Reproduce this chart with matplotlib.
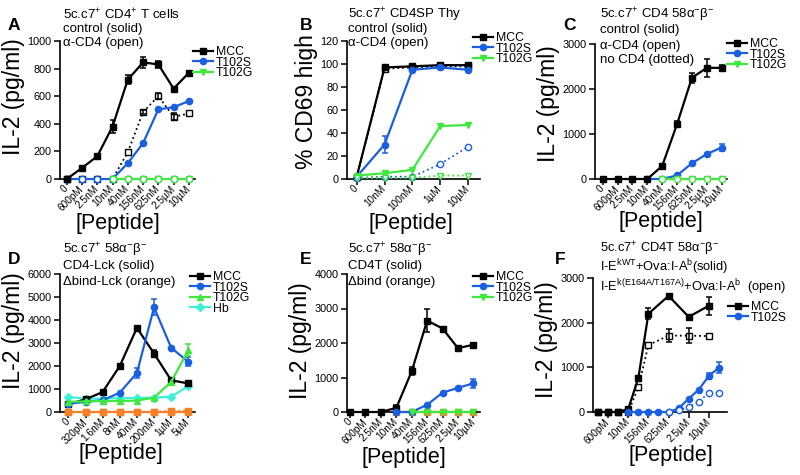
import matplotlib
matplotlib.use('Agg')
import matplotlib.pyplot as plt

plt.rcParams['font.family'] = ['Liberation Sans', 'DejaVu Sans']
plt.rcParams['mathtext.fontset'] = 'custom'
plt.rcParams['mathtext.rm'] = 'Liberation Sans'
plt.rcParams['mathtext.it'] = 'Liberation Sans:italic'
plt.rcParams['mathtext.bf'] = 'Liberation Sans:bold'

BLACK = 'black'
BLUE = '#1a5fe0'
GREEN = '#3ee83e'
CYAN = '#3ff0d8'
ORANGE = '#f58025'

# ---- data ----
conc9 = ['0', '600pM', '2.5nM', '10nM', '40nM', '156nM', '625nM', '2.5µM', '10µM']
from10nM = conc9[3:]
from40nM = conc9[4:]

# A : CD4+ T cells, IL-2
A_mcc = [0, 80, 165, 380, 720, 845, 830, 655, 770]
A_mcc_err = [0, 10, 12, 50, 35, 40, 25, 10, 10]
A_mcc_open = [0, 0, 0, 0, 195, 485, 600, 450, 475]
A_mcc_open_err = [0, 0, 0, 0, 0, 15, 20, 25, 0]
A_t102s = [0, 0, 0, 0, 115, 260, 505, 520, 565]
A_t102s_open = [0, 0, 0, 0, 0, 0, 0, 0, 0]
A_t102g = [0, 0, 0, 0, 0, 0]          # 10nM .. 10µM
A_t102g_open = [0, 0, 0, 0, 0, 0]

# B : CD4SP thymocytes, % CD69 high
conc5 = ['0', '10nM', '100nM', '1µM', '10µM']
B_mcc = [2, 97, 98, 99, 99]
B_mcc_open = [2, 96, 97, 98, 98]
B_t102s = [2, 30, 95, 97, 95]
B_t102s_err = [0, 7, 1, 1, 1]
B_t102s_open = [1, 2, 2, 13, 28]
B_t102g = [3, 5, 8, 46, 47]
B_t102g_open = [1, 1, 1, 3, 3]

# C : CD4 58a-b-
C_mcc = [0, 0, 0, 0, 290, 1220, 2250, 2470, 2470]
C_mcc_err = [0, 0, 0, 0, 20, 60, 110, 200, 60]
C_t102s = [0, 0, 80, 350, 555, 700]    # 10nM .. 10µM
C_t102s_err = [0, 0, 0, 0, 0, 80]
C_t102g = [0, 0, 0, 0, 0]              # 40nM .. 10µM
C_t102g_open = [0, 0, 0, 0, 0]

# D : CD4-Lck / dbind-Lck
conc8 = ['0', '320pM', '1.6nM', '8nM', '40nM', '200nM', '1µM', '5µM']
D_mcc = [340, 550, 870, 2000, 3660, 2540, 1380, 1240]
D_mcc_err = [0, 0, 0, 0, 100, 150, 0, 0]
D_t102s = [360, 440, 510, 840, 1700, 4550, 2790, 2180]
D_t102s_err = [0, 0, 0, 0, 200, 350, 0, 200]
D_t102g = [440, 465, 480, 480, 495, 625, 1310, 2690]
D_t102g_err = [0, 0, 0, 0, 0, 0, 0, 250]
D_hb = [650, 580, 580, 610, 610, 625, 670, 1120]
D_dbind = [0, 0, 0, 0, 0, 0, 0, 0]
D_dbind_open = [0, 0, 0, 0, 0, 0, 60, 60]

# E : CD4T / dbind
E_mcc = [0, 0, 0, 120, 1180, 2650, 2420, 1850, 1950]
E_mcc_err = [0, 0, 0, 80, 120, 330, 30, 30, 30]
E_t102s = [0, 0, 210, 560, 700, 830]   # 10nM .. 10µM
E_t102s_err = [30, 0, 0, 0, 0, 130]
E_t102g = [0, 0, 0, 0, 0]              # 40nM .. 10µM
E_dbind = [0, 0, 0, 0, 0, 0]           # 10nM .. 10µM

# F : CD4T 58a-b-, I-Ek WT vs E164A/T167A
concF = ['0', '600pM', '2.5nM', '10nM', '40nM', '156nM', '312nM', '625nM',
         '1.25µM', '2.5µM', '5µM', '10µM', '20µM']
F_ticks = ['600pM', '10nM', '156nM', '625nM', '2.5µM', '10µM']
F_mcc_x = ['0', '600pM', '2.5nM', '10nM', '40nM', '156nM', '625nM', '2.5µM', '10µM']
F_mcc = [0, 0, 0, 70, 760, 2200, 2600, 2130, 2380]
F_mcc_err = [0, 0, 0, 0, 0, 120, 50, 30, 200]
F_mcc_open = [0, 0, 0, 0, 550, 1500, 1710, 1710, 1700]
F_mcc_open_err = [0, 0, 0, 0, 0, 0, 150, 170, 0]
F_t102s_x = ['10nM', '40nM', '156nM', '312nM', '625nM', '1.25µM', '2.5µM', '5µM', '10µM', '20µM']
F_t102s = [0, 0, 0, 0, 0, 80, 300, 500, 810, 990]
F_t102s_err = [0, 0, 0, 0, 0, 0, 0, 0, 70, 120]
F_t102s_open_x = ['625nM', '1.25µM', '2.5µM', '5µM', '10µM', '20µM']
F_t102s_open = [0, 35, 110, 230, 430, 430]


fig = plt.figure(figsize=(8, 4.75), dpi=100)
W, H = 800.0, 475.0


def add_ax(left, top, right, bottom):
    return fig.add_axes([left / W, 1 - bottom / H, (right - left) / W, (bottom - top) / H])


def draw(ax, cats, xl, ys, color, marker, err=None, open_=False, label=None, z=3):
    xs = [cats.index(c) for c in xl]
    ax.plot(xs, ys, ls=':' if open_ else '-', color=color, lw=1.3 if open_ else 1.6,
            marker=marker, ms=4.5, mfc='white' if open_ else color, mec=color, mew=1,
            label=label, clip_on=False, zorder=z)
    if err:
        ex = [x for x, e in zip(xs, err) if e > 0]
        ey = [y for y, e in zip(ys, err) if e > 0]
        ee = [e for e in err if e > 0]
        ax.errorbar(ex, ey, yerr=ee, fmt='none', ecolor=color, elinewidth=1.1,
                    capsize=2.5, capthick=1.1, clip_on=False, zorder=z)


def setup(ax, ticks, labels, xlim, ymax, ystep, ylabel, ly=0.5, lx=0.5, lxy=-0.24):
    ax.set_xlim(xlim)
    ax.set_ylim(0, ymax)
    ax.set_yticks(range(0, ymax + 1, ystep))
    ax.set_xticks(ticks)
    ax.set_xticklabels(labels, rotation=45, ha='right', va='center', rotation_mode='anchor')
    for s in ['top', 'right']:
        ax.spines[s].set_visible(False)
    for s in ['left', 'bottom']:
        ax.spines[s].set_linewidth(1.2)
    ax.tick_params(direction='out', length=4, width=1.1, labelsize=7.8, pad=2)
    ax.tick_params(axis='x', labelsize=7.2, pad=2)
    ax.set_ylabel(ylabel, fontsize=16.5, labelpad=2)
    ax.set_xlabel('[Peptide]', fontsize=15.5)
    ax.yaxis.label.set_y(ly)
    ax.xaxis.set_label_coords(lx, lxy)


def legend(ax, x, y, handles=None, labels=None):
    kw = dict(loc='upper left', bbox_to_anchor=(x / W, 1 - y / H), bbox_transform=fig.transFigure,
              frameon=False, fontsize=8.8, handlelength=1.6, handletextpad=0.3,
              borderpad=0, borderaxespad=0, labelspacing=-0.12)
    if handles is None:
        ax.legend(**kw)
    else:
        ax.legend(handles, labels, **kw)


def title(x, ys, lines, size=9.5):
    for y, t in zip(ys, lines):
        fig.text(x / W, 1 - y / H, t, fontsize=size, ha='left', va='center')


def letter(x, y, t):
    fig.text(x / W, 1 - y / H, t, fontsize=12.5, fontweight='bold', ha='left', va='center')


# ---- A ----
ax = add_ax(60, 41, 195, 179)
draw(ax, conc9, conc9, A_mcc_open, BLACK, 's', A_mcc_open_err, open_=True)
draw(ax, conc9, conc9, A_t102s, BLUE, 'o', label='T102S')
draw(ax, conc9, conc9, A_t102s_open, BLUE, 'o', open_=True)
draw(ax, conc9, conc9, A_mcc, BLACK, 's', A_mcc_err, label='MCC', z=4)
draw(ax, conc9, from10nM, A_t102g, GREEN, 'v', label='T102G')
draw(ax, conc9, from10nM, A_t102g_open, GREEN, 'o', open_=True)
setup(ax, range(9), conc9, (-0.44, 8.4), 1000, 200, 'IL-2 (pg/ml)', ly=0.6, lx=0.43, lxy=-0.25)
h, l = ax.get_legend_handles_labels()
legend(ax, 193, 46, [h[1], h[0], h[2]], [l[1], l[0], l[2]])
title(63, [15, 29, 43], ['5c.c7$^{+}$ CD4$^{+}$ T cells', 'control (solid)', 'α-CD4 (open)'])
letter(8, 26, 'A')

# ---- B ----
ax = add_ax(347, 41, 480, 179)
draw(ax, conc5, conc5, B_mcc_open, BLACK, 's', open_=True)
draw(ax, conc5, conc5, B_mcc, BLACK, 's', label='MCC')
draw(ax, conc5, conc5, B_t102s, BLUE, 'o', B_t102s_err, label='T102S')
draw(ax, conc5, conc5, B_t102s_open, BLUE, 'o', open_=True)
draw(ax, conc5, conc5, B_t102g, GREEN, 'v', label='T102G')
draw(ax, conc5, conc5, B_t102g_open, GREEN, 'v', open_=True)
setup(ax, range(5), conc5, (-0.35, 4.43), 120, 20, '% CD69 high', ly=0.56, lx=0.48, lxy=-0.25)
legend(ax, 473, 32)
title(348, [15, 29, 43], ['5c.c7$^{+}$ CD4SP Thy', 'control (solid)', 'α-CD4 (open)'])
letter(300, 26, 'B')

# ---- C ----
ax = add_ax(595, 44, 727, 179)
draw(ax, conc9, from10nM, C_t102s, BLUE, 'o', C_t102s_err, label='T102S')
draw(ax, conc9, conc9, C_mcc, BLACK, 's', C_mcc_err, label='MCC')
draw(ax, conc9, from40nM, C_t102g, GREEN, 'v', label='T102G')
draw(ax, conc9, from40nM, C_t102g_open, GREEN, 'o', open_=True)
setup(ax, range(9), conc9, (-0.52, 8.36), 3000, 1000, 'IL-2 (pg/ml)', ly=0.56, lxy=-0.235)
h, l = ax.get_legend_handles_labels()
legend(ax, 727, 38, [h[1], h[0], h[2]], [l[1], l[0], l[2]])
title(600, [15, 30.5, 45.5, 60.5], ['5c.c7$^{+}$ CD4 58α$^{-}$β$^{-}$', 'control (solid)',
                                   'α-CD4 (open)', 'no CD4 (dotted)'])
letter(563, 26, 'C')

# ---- D ----
ax = add_ax(60, 274, 195, 412)
draw(ax, conc8, conc8, D_dbind_open, ORANGE, 's', open_=True)
draw(ax, conc8, conc8, D_hb, CYAN, 'D', z=2)
draw(ax, conc8, conc8, D_mcc, BLACK, 's', D_mcc_err, label='MCC')
draw(ax, conc8, conc8, D_t102s, BLUE, 'o', D_t102s_err, label='T102S')
draw(ax, conc8, conc8, D_t102g, GREEN, '^', D_t102g_err, label='T102G')
ax.plot([], [], color=CYAN, lw=1.6, marker='D', ms=4, label='Hb')
draw(ax, conc8, conc8, D_dbind, ORANGE, 's')
setup(ax, range(8), conc8, (-0.49, 7.39), 6000, 1000, 'IL-2 (pg/ml)', ly=0.59, lx=0.45, lxy=-0.225)
legend(ax, 190, 271)
title(63, [250, 266.5, 281.5], ['5c.c7$^{+}$ 58α$^{-}$β$^{-}$', 'CD4-Lck (solid)', 'Δbind-Lck (orange)'])
letter(8, 260, 'D')

# ---- E ----
ax = add_ax(347, 274, 480, 412)
draw(ax, conc9, from10nM, E_dbind, ORANGE, 's', z=2)
draw(ax, conc9, conc9, E_mcc, BLACK, 's', E_mcc_err, label='MCC')
draw(ax, conc9, from10nM, E_t102s, BLUE, 'o', E_t102s_err, label='T102S')
draw(ax, conc9, from40nM, E_t102g, GREEN, 'v', label='T102G')
setup(ax, range(9), conc9, (-0.2, 8.43), 4000, 1000, 'IL-2 (pg/ml)', ly=0.52, lx=0.43, lxy=-0.255)
legend(ax, 473, 271)
title(348, [250, 266.5, 281.5], ['5c.c7$^{+}$ 58α$^{-}$β$^{-}$', 'CD4T (solid)', 'Δbind (orange)'])
letter(300, 260, 'E')

# ---- F ----
ax = add_ax(593, 278, 727, 412)
draw(ax, concF, F_mcc_x, F_mcc_open, BLACK, 's', F_mcc_open_err, open_=True)
draw(ax, concF, F_mcc_x, F_mcc, BLACK, 's', F_mcc_err, label='MCC')
draw(ax, concF, F_t102s_x, F_t102s, BLUE, 'o', F_t102s_err, label='T102S')
draw(ax, concF, F_t102s_open_x, F_t102s_open, BLUE, 'o', open_=True)
setup(ax, [concF.index(c) for c in F_ticks], F_ticks, (-0.5, 12.8), 3000, 1000, 'IL-2 (pg/ml)',
      ly=0.54, lx=0.58, lxy=-0.245)
legend(ax, 728, 301)
title(600, [248.5, 267, 287.5], ['5c.c7$^{+}$ CD4T 58α$^{-}$β$^{-}$',
                                'I-E$^{\\mathrm{kWT}}$+Ova:I-A$^{\\mathrm{b}}$(solid)',
                                'I-E$^{\\mathrm{k(E164A/T167A)}}$+Ova:I-A$^{\\mathrm{b}}$  (open)'], size=9.3)
letter(555, 260, 'F')

fig.savefig('out.png', dpi=100)
